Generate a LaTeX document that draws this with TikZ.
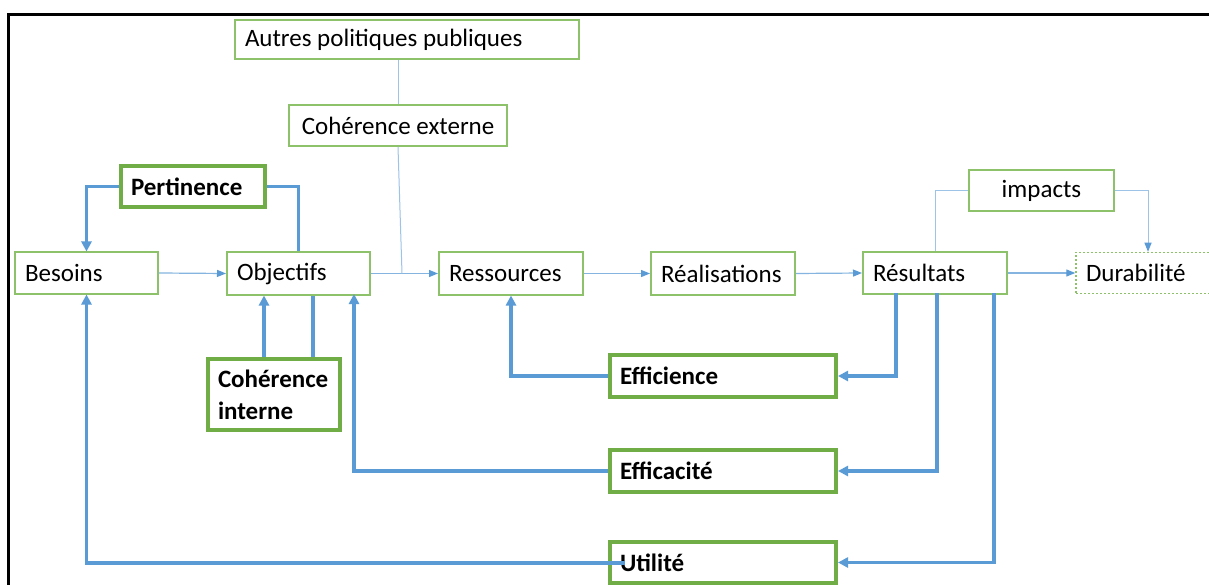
\documentclass[tikz,border=0pt]{standalone}
\usepackage{fontspec}
\setmainfont{Carlito}
\usetikzlibrary{arrows.meta,calc}
\definecolor{gthin}{HTML}{8DC26B}
\definecolor{gthick}{HTML}{70AD47}
\definecolor{bline}{HTML}{5B9BD5}
\definecolor{bpale}{HTML}{9DC3E6}
\tikzset{
  box/.style={draw=gthin, line width=2pt, fill=white, minimum height=41pt, inner xsep=10pt, font=\fontsize{25pt}{30pt}\selectfont, text=black},
  bbox/.style={draw=gthick, line width=4pt, fill=white, minimum height=41pt, inner xsep=10pt, font=\fontsize{25pt}{30pt}\selectfont\bfseries, text=black},
  thin/.style={draw=bline!75, line width=1.2pt, -{Triangle[length=9pt,width=7pt,color=bline]}},
  pale/.style={draw=bpale, line width=1pt},
  thick/.style={draw=bline, line width=3.5pt, -{Triangle[length=10pt,width=10pt]}},
  thickn/.style={draw=bline, line width=3.5pt},
}
\begin{document}
\begin{tikzpicture}[x=1pt,y=-1pt]
\useasboundingbox (0,0) rectangle (1209,585);
\fill[white] (0,0) rectangle (1209,585);
\draw[line width=3pt] (8.5,586) -- (8.5,15) -- (1210,15);

\node[box, minimum height=39pt] (autres) at (407,39.5) {\makebox[324pt][l]{Autres politiques publiques}};
\node[box, minimum width=218pt] (cohext) at (398,125.5) {Cohérence externe};
\node[bbox, text width=124pt, align=left] (pert) at (193,186.5) {Pertinence};
\node[box, text width=123pt, align=left] (besoins) at (86.5,273) {Besoins};
\node[box, text width=123pt, minimum height=42pt, align=left] (objectifs) at (298.5,273.5) {Objectifs};
\node[box, text width=124pt, minimum height=42pt, align=left] (ressources) at (511,273.5) {Ressources};
\node[box, text width=124pt, minimum height=42pt, align=left] (realisations) at (723,273.5) {Réalisations};
\node[box, text width=124pt, align=left] (resultats) at (935,273) {Résultats};
\node[box, draw=gthin, dotted, line width=1.5pt, text width=124pt, align=left] (durabilite) at (1148,273) {Durabilité};
\node[box, minimum width=145pt] (impacts) at (1041.5,190.5) {impacts};
\node[bbox, text width=112pt, minimum height=71pt, align=left, font=\fontsize{25pt}{32pt}\selectfont\bfseries] (cohint) at (274,394.5) {Cohérence\\interne};
\node[bbox, text width=206pt, minimum height=42pt, align=left] (efficience) at (723,376) {Efficience};
\node[bbox, text width=206pt, minimum height=42pt, align=left] (efficacite) at (723,471) {Efficacité};
\node[bbox, text width=206pt, align=left] (utilite) at (723,562.5) {Utilité};

% main chain
\coordinate (J) at (402,273.5);
\draw[thin] (besoins.east) -- (objectifs.west);
\draw[thin] (objectifs.east) -- (ressources.west);
\draw[thin] (ressources.east) -- (realisations.west);
\draw[thin] (realisations.east) -- (resultats.west);
\draw[thin] (resultats.east) -- (durabilite.west);

% external coherence
\draw[pale] (autres.south -| cohext.north) -- (cohext.north);
\draw[pale] (cohext.south) -- (J);

% impacts
\draw[pale] (impacts.west) -| (resultats.north);
\draw[pale, -{Triangle[length=9pt,width=7pt,color=bline]}] (impacts.east) -| (durabilite.north);

% pertinence
\draw[thick] (pert.west) -| (besoins.north);
\draw[thickn] (pert.east) -| (objectifs.north);

% internal coherence
\draw[thick] ([xshift=-10pt]cohint.north) -- ([xshift=-10pt]cohint.north |- objectifs.south);
\coordinate (ci2) at (313,357);
\draw[thickn] (ci2) -- (ci2 |- objectifs.south);

% efficience, efficacite, utilite
\coordinate (r1) at (896,293);
\coordinate (r2) at (937,293);
\coordinate (r3) at (994,293);
\draw[thick] (r1) |- (efficience.east);
\draw[thick] (r2) |- (efficacite.east);
\draw[thick] (r3) |- (utilite.east);
\draw[thick] (efficience.west) -| (ressources.south);
\coordinate (ob3) at (354,294);
\draw[thick] (efficacite.west) -| (ob3);
\coordinate (u1) at (625,563);
\draw[thick] (u1) -| (besoins.south);
\end{tikzpicture}
\end{document}
